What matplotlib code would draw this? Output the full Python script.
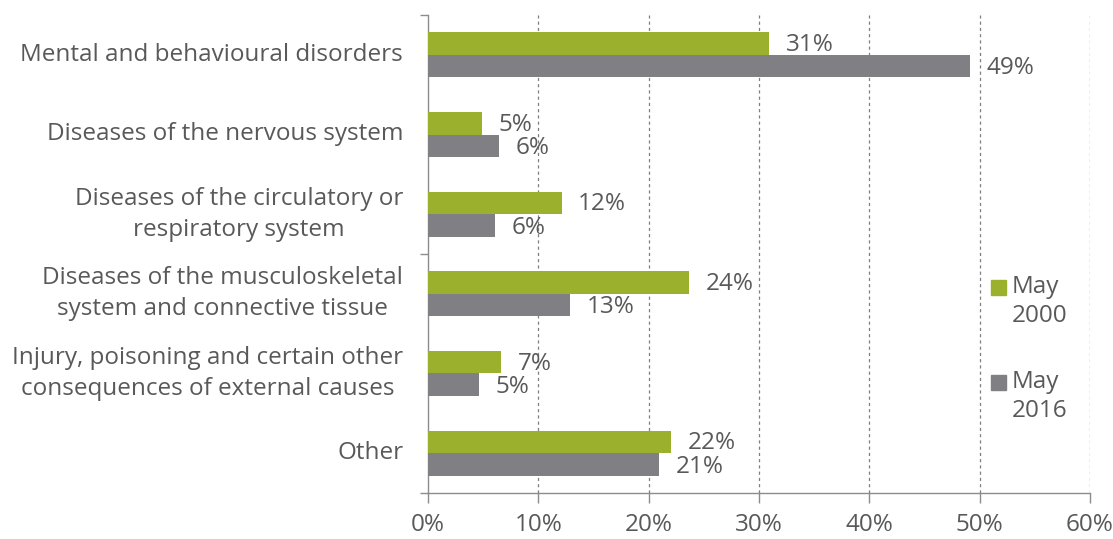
import matplotlib
matplotlib.use("Agg")
import matplotlib.pyplot as plt
from matplotlib.patches import Rectangle
import numpy as np

categories = [
    "Mental and behavioural disorders",
    "Diseases of the nervous system",
    "Diseases of the circulatory or\nrespiratory system",
    "Diseases of the musculoskeletal\nsystem and connective tissue",
    "Injury, poisoning and certain other\nconsequences of external causes",
    "Other",
]
may_2000 = [30.9, 4.9, 12.1, 23.7, 6.6, 22.0]
may_2016 = [49.1, 6.4, 6.1, 12.9, 4.6, 20.9]
x_ticks = [0, 10, 20, 30, 40, 50, 60]
series_names = ["May\n2000", "May\n2016"]

GREEN = "#9BB02D"
GRAY = "#808084"
TEXT = "#595959"
AXIS = "#8C8C8C"
FS = 17.5

plt.rcParams['font.family'] = ['Open Sans', 'DejaVu Sans']

W, H = 1113, 539
fig = plt.figure(figsize=(W / 100, H / 100), dpi=100)
ax = fig.add_axes([428 / W, 1 - 493 / H, (1090 - 428) / W, (493 - 15) / H])

y = np.arange(len(categories))
bh = 0.283
ax.barh(y - bh / 2, may_2000, height=bh, color=GREEN, zorder=3)
ax.barh(y + bh / 2, may_2016, height=bh, color=GRAY, zorder=3)

for yi, v in zip(y, may_2000):
    ax.annotate(f"{round(v)}%", (v, yi - bh / 2), xytext=(12, -1), textcoords="offset points",
                ha="left", va="center", fontsize=FS, color=TEXT)
for yi, v in zip(y, may_2016):
    ax.annotate(f"{round(v)}%", (v, yi + bh / 2), xytext=(12, -1.5), textcoords="offset points",
                ha="left", va="center", fontsize=FS, color=TEXT)

ax.set_xlim(0, 60)
ax.set_ylim(len(categories) - 0.5, -0.5)
ax.set_xticks(x_ticks)
ax.set_xticklabels([f"{t}%" for t in x_ticks], fontsize=FS, color=TEXT)
ax.tick_params(axis="x", direction="out", length=7, width=1, color=AXIS, pad=7.5)

ax.set_yticks([-0.5, 2.5, 5.5])
ax.set_yticklabels([])
ax.tick_params(axis="y", direction="out", length=6, width=1, color=AXIS)
for yi, lab in zip(y, categories):
    ax.text(-0.0375, yi, lab, transform=ax.get_yaxis_transform(), ha="right", va="center",
            ma="center", fontsize=FS, color=TEXT, linespacing=1.38)

for g in x_ticks[1:]:
    ax.axvline(g, color="#7F7F7F", lw=0.9, ls=(0, (2.5, 2.5)), zorder=1)

for s in ["top", "right"]:
    ax.spines[s].set_visible(False)
for s in ["left", "bottom"]:
    ax.spines[s].set_color(AXIS)
    ax.spines[s].set_linewidth(1)

# legend
for (ytop, col, name) in [(280, GREEN, series_names[0]), (375, GRAY, series_names[1])]:
    fig.add_artist(Rectangle((991 / W, 1 - (ytop + 15) / H), 15 / W, 15 / H,
                             transform=fig.transFigure, color=col))
    fig.text(1012 / W, 1 - (ytop - 5) / H, name, ha="left", va="top", fontsize=FS,
             color=TEXT, linespacing=1.3)

fig.savefig("out.png", dpi=100)
